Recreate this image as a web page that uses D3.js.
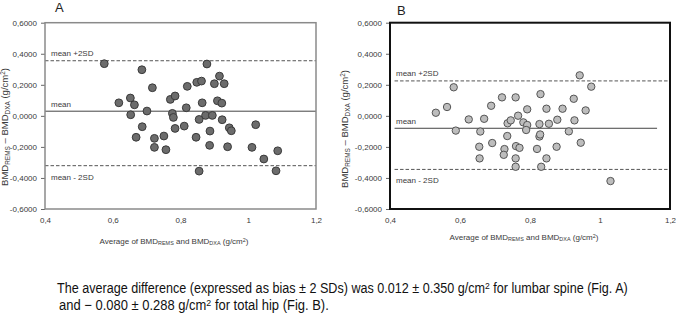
<!DOCTYPE html>
<html>
<head>
<meta charset="utf-8">
<script src="https://cdn.jsdelivr.net/npm/d3@7"></script>
<style>
  html, body { margin: 0; padding: 0; background: #fff; }
  svg { display: block; font-family: 'Liberation Sans', Arial, sans-serif; }
</style>
</head>
<body>
<svg id="chart" width="676" height="318"></svg>
<script>
// axis ticks (comma decimals as in the original)
const xTicks = [0.4, 0.6, 0.8, 1.0, 1.2];
const xTickLabels = ['0,4', '0,6', '0,8', '1', '1,2'];
const yTicks = [0.6, 0.4, 0.2, 0, -0.2, -0.4, -0.6];
const yTickLabels = ['0,6000', '0,4000', '0,2000', '0,0000', '-0,2000', '-0,4000', '-0,6000'];

// Fig. A - lumbar spine: average of both methods vs difference
const spineAvg = [0.575, 0.686, 0.717, 0.618, 0.652, 0.664, 0.653, 0.701, 0.687, 0.669,
    0.723, 0.751, 0.723, 0.757, 0.770, 0.784, 0.820, 0.848, 0.862, 0.878,
    0.776, 0.779, 0.784, 0.817, 0.811, 0.855, 0.846, 0.864, 0.874, 0.915,
    0.900, 0.929, 0.909, 0.922, 0.894, 0.923, 0.887, 0.944, 0.950, 1.022,
    0.886, 0.939, 1.011, 1.046, 1.087, 1.082, 0.855];
const spineDiff = [0.336, 0.297, 0.181, 0.084, 0.115, 0.071, 0.007, 0.031, -0.070, -0.138,
    -0.145, -0.130, -0.203, -0.218, 0.106, 0.128, 0.190, 0.216, 0.224, 0.334,
    0.016, -0.010, -0.081, 0.052, -0.066, -0.023, -0.138, 0.084, 0.003, 0.256,
    0.207, 0.207, 0.097, 0.082, 0.003, -0.025, -0.098, -0.077, -0.096, -0.057,
    -0.190, -0.199, -0.203, -0.278, -0.225, -0.354, -0.356];
const spineLimits = [0.355, 0.030, -0.321];

// Fig. B - total hip
const hipAvg = [0.582, 0.531, 0.563, 0.588, 0.625, 0.669, 0.658, 0.689, 0.720, 0.759,
    0.692, 0.655, 0.656, 0.727, 0.725, 0.735, 0.736, 0.745, 0.766, 0.792,
    0.781, 0.792, 0.789, 0.760, 0.770, 0.759, 0.759, 0.830, 0.827, 0.827,
    0.820, 0.832, 0.942, 0.975, 0.925, 0.847, 0.893, 0.959, 0.878, 0.927,
    0.854, 0.911, 0.829, 0.945, 0.876, 0.847, 1.030];
const hipDiff = [0.184, 0.020, 0.057, -0.095, -0.023, -0.019, -0.101, 0.065, 0.119, 0.119,
    -0.175, -0.199, -0.274, -0.214, -0.251, -0.130, -0.048, -0.029, 0.001, 0.042,
    -0.042, -0.059, -0.091, -0.195, -0.206, -0.274, -0.328, 0.140, -0.053, -0.133,
    -0.213, -0.328, 0.261, 0.188, 0.110, 0.046, 0.046, 0.035, -0.025, -0.029,
    -0.051, -0.100, -0.120, -0.173, -0.199, -0.274, -0.420];
const hipLimits = [0.225, -0.080, -0.345];
const hipLineStart = 0.413;
const hipMeanEnd = 1.163;

const limitLabels = ['mean +2SD', 'mean', 'mean - 2SD'];

const svg = d3.select('#chart');
const TEXT = '#3a3a3a';

// text with sub / superscript pieces: [string, 'n' | 'sub' | 'sup']
function richText(sel, parts, size) {
    parts.forEach(([s, kind]) => {
        const t = sel.append('tspan').text(s);
        if (kind === 'sub') t.style('font-size', (size * 0.68) + 'px').attr('baseline-shift', '-25%');
        if (kind === 'sup') t.style('font-size', (size * 0.68) + 'px').attr('baseline-shift', '45%');
    });
}

const xTitleParts = [['Average of BMD', 'n'], ['REMS', 'sub'], [' and BMD', 'n'], ['DXA', 'sub'], [' (g/cm', 'n'], ['2', 'sup'], [')', 'n']];
const yTitleParts = [['BMD', 'n'], ['REMS', 'sub'], [' \u2013 BMD', 'n'], ['DXA', 'sub'], [' (g/cm', 'n'], ['2', 'sup'], [')', 'n']];

function drawPanel(o) {
    const x = d3.scaleLinear().domain([0.4, 1.2]).range([o.left, o.right]);
    const y = d3.scaleLinear().domain([-0.6, 0.6]).range([209, 22.7]);
    const g = svg.append('g');

    // y axis
    g.append('g')
        .attr('transform', `translate(${o.left},0)`)
        .call(d3.axisLeft(y).tickValues(yTicks).tickSize(4).tickPadding(4)
            .tickFormat((d, i) => yTickLabels[i]))
        .call(a => a.select('.domain').remove())
        .call(a => a.selectAll('line').attr('stroke', '#666'))
        .call(a => a.selectAll('text').attr('fill', TEXT).style('font-size', '8px')
            .style('font-family', "'Liberation Sans', Arial, sans-serif"));

    // x axis
    g.append('g')
        .attr('transform', `translate(0,209)`)
        .call(d3.axisBottom(x).tickValues(xTicks).tickSize(0).tickPadding(8)
            .tickFormat((d, i) => xTickLabels[i]))
        .call(a => a.select('.domain').remove())
        .call(a => a.selectAll('text').attr('fill', TEXT).style('font-size', '8px')
            .style('font-family', "'Liberation Sans', Arial, sans-serif"));

    // limit lines
    o.limits.forEach((v, i) => {
        const x1 = o.lineFrom !== undefined ? x(o.lineFrom) : x(0.4);
        const x2 = (i === 1 && o.meanTo !== undefined) ? x(o.meanTo) : x(1.2);
        g.append('line')
            .attr('x1', x1).attr('x2', x2).attr('y1', y(v)).attr('y2', y(v))
            .attr('stroke', i === 1 ? '#444' : '#555')
            .attr('stroke-width', 1)
            .attr('stroke-dasharray', i === 1 ? null : '3.5,2');
        g.append('text')
            .attr('x', o.left + 6)
            .attr('y', y(v) + [-5, -4, 14][i])
            .style('font-size', '8px').attr('fill', TEXT)
            .text(limitLabels[i]);
    });

    // points
    g.append('g').selectAll('circle')
        .data(o.avg.map((d, i) => [d, o.diff[i]]))
        .join('circle')
        .attr('cx', d => x(d[0])).attr('cy', d => y(d[1]))
        .attr('r', o.r)
        .attr('fill', o.fill).attr('stroke', o.stroke).attr('stroke-width', 1);

    // frame
    g.append('rect')
        .attr('x', o.left).attr('y', 22.7)
        .attr('width', o.right - o.left).attr('height', 209 - 22.7)
        .attr('fill', 'none').attr('stroke', o.frame).attr('stroke-width', o.frameW);

    // axis titles
    const xt = g.append('text')
        .attr('x', o.xTitleX).attr('y', o.xTitleY)
        .attr('text-anchor', 'middle').style('font-size', '8px').attr('fill', TEXT);
    richText(xt, xTitleParts, 8);

    const yt = g.append('text')
        .attr('transform', `translate(${o.yTitleX},${o.yTitleY}) rotate(-90)`)
        .attr('text-anchor', 'middle').style('font-size', '9.5px').attr('fill', TEXT);
    richText(yt, yTitleParts, 9.5);

    // panel letter
    g.append('text')
        .attr('x', o.letterX).attr('y', o.letterY)
        .style('font-size', '13px').attr('fill', '#222')
        .text(o.letter);
}

drawPanel({
    left: 45, right: 316, avg: spineAvg, diff: spineDiff, limits: spineLimits,
    r: 3.9, fill: '#6c6c6c', stroke: '#3a3a3a', frame: '#8a8a8a', frameW: 1.5,
    xTitleX: 174, xTitleY: 244, yTitleX: 8, yTitleY: 127,
    letter: 'A', letterX: 55, letterY: 12
});

drawPanel({
    left: 390, right: 670, avg: hipAvg, diff: hipDiff, limits: hipLimits,
    lineFrom: hipLineStart, meanTo: hipMeanEnd,
    r: 3.7, fill: '#bdbdbd', stroke: '#555', frame: '#111', frameW: 2,
    xTitleX: 524, xTitleY: 240, yTitleX: 348, yTitleY: 129,
    letter: 'B', letterX: 397, letterY: 15
});

// caption, squeezed horizontally to the narrow face of the original
function caption(parts, x0, y0, width) {
    const t = svg.append('text')
        .style('font-size', '14.5px').attr('fill', '#111');
    richText(t, parts, 14.5);
    const w = t.node().getComputedTextLength();
    t.attr('transform', `translate(${x0},${y0}) scale(${width / w},1)`);
}

caption([['The average difference (expressed as bias \u00b1 2 SDs) was 0.012 \u00b1 0.350 g/cm', 'n'],
    ['2', 'sup'], [' for lumbar spine (Fig. A)', 'n']], 57, 293, 571);
caption([['and \u2212 0.080 \u00b1 0.288 g/cm', 'n'], ['2', 'sup'], [' for total hip (Fig. B).', 'n']], 59, 310, 270);
</script>
</body>
</html>
